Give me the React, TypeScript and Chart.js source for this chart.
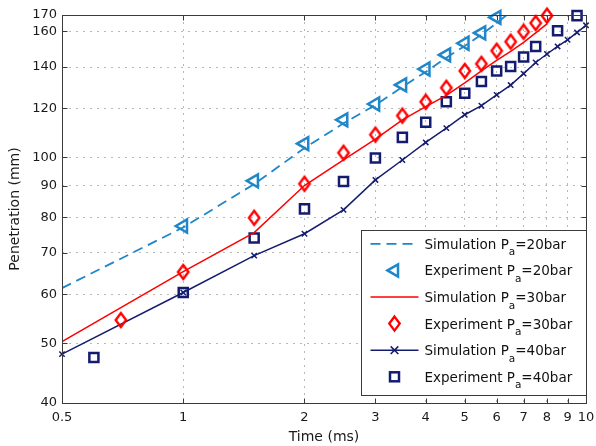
import React, { useEffect, useRef } from "react";
import { Chart, registerables } from "chart.js";

Chart.register(...registerables);

// ---- tick values ----
const xTickValues = [0.5, 1, 2, 3, 4, 5, 6, 7, 8, 9, 10];
const yTickValues = [40, 50, 60, 70, 80, 90, 100, 120, 140, 160, 170];

// ---- Simulation Pa=20bar ----
const simTime20 = [0.5, 1, 1.5, 2, 2.5, 3, 3.5, 4, 4.5, 5, 5.5, 6, 6.5];
const simPen20 = [61.4, 77.0, 90.5, 103.5, 113.5, 121.5, 130, 137.5, 145, 151.5, 158, 165, 172];

// ---- Experiment Pa=20bar ----
const expTime20 = [1, 1.5, 2, 2.5, 3, 3.5, 4, 4.5, 5, 5.5, 6];
const expPen20 = [77.4, 91.6, 105.2, 115, 122, 131, 139, 146.5, 153, 159, 168.5];

// ---- Simulation Pa=30bar ----
const simTime30 = [0.5, 1, 1.5, 2, 2.5, 3, 3.5, 4, 4.5, 5, 5.5, 6, 6.5, 7, 7.5, 8];
const simPen30 = [50.3, 65.3, 75.5, 90, 99, 107, 115, 120.8, 126, 132, 138, 143.5, 148.5, 153.5, 159, 164.5];

// ---- Experiment Pa=30bar ----
const expTime30 = [0.7, 1, 1.5, 2, 2.5, 3, 3.5, 4, 4.5, 5, 5.5, 6, 6.5, 7, 7.5, 8];
const expPen30 = [54.5, 65.2, 79.8, 90.6, 101.7, 108.8, 116.8, 123, 129.6, 138, 141.7, 148.8, 153.9, 159.7, 165, 169.6];

// ---- Simulation Pa=40bar ----
const simTime40 = [0.5, 1, 1.5, 2, 2.5, 3, 3.5, 4, 4.5, 5, 5.5, 6, 6.5, 7, 7.5, 8, 8.5, 9, 9.5, 10];
const simPen40 = [48.0, 60.4, 69.3, 75.2, 82.2, 91.9, 99.0, 105.7, 111.5, 117.2, 121.2, 126.2, 130.9, 136.6, 142.4, 147, 151.2, 155.0, 159.3, 163.6];

// ---- Experiment Pa=40bar ----
const expTime40 = [0.6, 1, 1.5, 2, 2.5, 3, 3.5, 4, 4.5, 5, 5.5, 6, 6.5, 7, 7.5, 8.5, 9.5];
const expPen40 = [47.4, 60.4, 74, 82.5, 91.4, 99.7, 107.7, 114, 123, 127, 132.7, 138, 140.3, 145.4, 151.2, 160.3, 169.6];

// ---- legend text ----
const legendPrefix = ["Simulation P", "Experiment P", "Simulation P", "Experiment P", "Simulation P", "Experiment P"];
const legendSub = ["a", "a", "a", "a", "a", "a"];
const legendSuffix = ["=20bar", "=20bar", "=30bar", "=30bar", "=40bar", "=40bar"];

const xTitle = "Time (ms)";
const yTitle = "Penetration (mm)";

const BLUE = "rgb(31,134,201)";
const RED = "rgb(255,0,0)";
const NAVY = "rgb(20,28,112)";
const FONT = '"DejaVu Sans", sans-serif';

const pts = (xs: number[], ys: number[]) => xs.map((x, i) => ({ x, y: ys[i] }));

function diamondPath(ctx: CanvasRenderingContext2D, cx: number, cy: number, hw: number, hh: number) {
  ctx.beginPath();
  ctx.moveTo(cx, cy - hh);
  ctx.lineTo(cx + hw, cy);
  ctx.lineTo(cx, cy + hh);
  ctx.lineTo(cx - hw, cy);
  ctx.closePath();
}

function makeDiamond(): HTMLCanvasElement {
  const c = document.createElement("canvas");
  c.width = 18;
  c.height = 22;
  const g = c.getContext("2d")!;
  g.strokeStyle = RED;
  g.lineWidth = 2.4;
  g.lineJoin = "miter";
  diamondPath(g, 9, 11, 5.2, 7);
  g.stroke();
  return c;
}

const framePlugin = {
  id: "matlabFrame",
  afterDraw(chart: any) {
    const { ctx, chartArea: a, scales } = chart;
    const xs = scales.x;
    const ys = scales.y;
    ctx.save();
    const L = Math.round(a.left) + 0.5;
    const R = Math.round(a.right) + 0.5;
    const T = Math.round(a.top) + 0.5;
    const B = Math.round(a.bottom) + 0.5;
    ctx.strokeStyle = "#3a3a3a";
    ctx.lineWidth = 1;
    ctx.setLineDash([]);
    ctx.beginPath();
    for (const v of xTickValues) {
      const px = Math.round(xs.getPixelForValue(v)) + 0.5;
      ctx.moveTo(px, B);
      ctx.lineTo(px, B - 5);
      ctx.moveTo(px, T);
      ctx.lineTo(px, T + 5);
    }
    for (const v of yTickValues) {
      const py = Math.round(ys.getPixelForValue(v)) + 0.5;
      ctx.moveTo(L, py);
      ctx.lineTo(L + 5, py);
      ctx.moveTo(R, py);
      ctx.lineTo(R - 5, py);
    }
    ctx.stroke();
    ctx.strokeRect(L, T, R - L, B - T);

    // ---- legend ----
    const boxR = R;
    const boxL = boxR - 225;
    const boxB = B - 8;
    const boxT = boxB - 165;
    ctx.fillStyle = "#ffffff";
    ctx.fillRect(boxL, boxT, boxR - boxL, boxB - boxT);
    ctx.strokeStyle = "#3a3a3a";
    ctx.lineWidth = 1;
    ctx.strokeRect(boxL, boxT, boxR - boxL, boxB - boxT);

    const sx0 = boxL + 9;
    const sx1 = boxL + 57;
    const mx = (sx0 + sx1) / 2;
    const tx = boxL + 63;
    for (let i = 0; i < 6; i++) {
      const base = boxT + 18.3 + i * 26.6;
      const cy = base - 5;
      ctx.lineWidth = 1.8;
      ctx.setLineDash([]);
      if (i === 0) {
        ctx.strokeStyle = BLUE;
        ctx.setLineDash([10, 6]);
        ctx.beginPath();
        ctx.moveTo(sx0, cy);
        ctx.lineTo(sx1, cy);
        ctx.stroke();
        ctx.setLineDash([]);
      } else if (i === 1) {
        ctx.strokeStyle = BLUE;
        ctx.lineWidth = 2.5;
        const r = 7;
        ctx.beginPath();
        ctx.moveTo(mx - r, cy);
        ctx.lineTo(mx + r / 2, cy - r * 0.866);
        ctx.lineTo(mx + r / 2, cy + r * 0.866);
        ctx.closePath();
        ctx.stroke();
      } else if (i === 2) {
        ctx.strokeStyle = RED;
        ctx.lineWidth = 1.5;
        ctx.beginPath();
        ctx.moveTo(sx0, cy);
        ctx.lineTo(sx1, cy);
        ctx.stroke();
      } else if (i === 3) {
        ctx.strokeStyle = RED;
        ctx.lineWidth = 2.4;
        diamondPath(ctx, mx, cy, 5.2, 7);
        ctx.stroke();
      } else if (i === 4) {
        ctx.strokeStyle = NAVY;
        ctx.lineWidth = 1.5;
        ctx.beginPath();
        ctx.moveTo(sx0, cy);
        ctx.lineTo(sx1, cy);
        const r = 3.8;
        ctx.moveTo(mx - r, cy - r);
        ctx.lineTo(mx + r, cy + r);
        ctx.moveTo(mx - r, cy + r);
        ctx.lineTo(mx + r, cy - r);
        ctx.stroke();
      } else {
        ctx.strokeStyle = NAVY;
        ctx.lineWidth = 2.5;
        const h = 4.5;
        ctx.strokeRect(mx - h, cy - h, 2 * h, 2 * h);
      }
      ctx.fillStyle = "#111111";
      ctx.textBaseline = "alphabetic";
      ctx.textAlign = "left";
      ctx.font = "13.5px " + FONT;
      ctx.fillText(legendPrefix[i], tx, base);
      let w = ctx.measureText(legendPrefix[i]).width;
      ctx.font = "10.5px " + FONT;
      ctx.fillText(legendSub[i], tx + w, base + 6.5);
      w += ctx.measureText(legendSub[i]).width;
      ctx.font = "13.5px " + FONT;
      ctx.fillText(legendSuffix[i], tx + w, base);
    }
    ctx.restore();
  },
};

export default function App() {
  const ref = useRef<HTMLCanvasElement>(null);
  useEffect(() => {
    const canvas = ref.current;
    if (!canvas) return;
    Chart.defaults.font.family = FONT;
    Chart.defaults.font.size = 13;
    Chart.defaults.color = "#1a1a1a";
    const diamond = makeDiamond();
    const gridCommon = {
      color: "#b8b8b8",
      lineWidth: 1,
      drawTicks: false,
    };
    const chart = new Chart(canvas, {
      type: "line",
      data: {
        datasets: [
          {
            label: "Simulation 20",
            data: pts(simTime20, simPen20),
            borderColor: BLUE,
            borderWidth: 1.8,
            borderDash: [10, 6],
            pointRadius: 0,
            fill: false,
          },
          {
            label: "Experiment 20",
            data: pts(expTime20, expPen20),
            showLine: false,
            borderColor: BLUE,
            pointStyle: "triangle",
            pointRotation: -90,
            pointRadius: 7.5,
            pointBorderWidth: 2.5,
            pointBackgroundColor: "rgba(0,0,0,0)",
            pointBorderColor: BLUE,
            clip: false,
          },
          {
            label: "Simulation 30",
            data: pts(simTime30, simPen30),
            borderColor: RED,
            borderWidth: 1.5,
            pointRadius: 0,
            fill: false,
          },
          {
            label: "Experiment 30",
            data: pts(expTime30, expPen30),
            showLine: false,
            borderColor: RED,
            pointStyle: diamond,
            pointRadius: 7,
            clip: false,
          },
          {
            label: "Simulation 40",
            data: pts(simTime40, simPen40),
            borderColor: NAVY,
            borderWidth: 1.5,
            pointStyle: "crossRot",
            pointRadius: 3.8,
            pointBorderWidth: 1.5,
            pointBorderColor: NAVY,
            fill: false,
            clip: false,
          },
          {
            label: "Experiment 40",
            data: pts(expTime40, expPen40),
            showLine: false,
            borderColor: NAVY,
            pointStyle: "rect",
            pointRadius: 6.4,
            pointBorderWidth: 2.5,
            pointBackgroundColor: "rgba(0,0,0,0)",
            pointBorderColor: NAVY,
            clip: false,
          },
        ],
      },
      options: {
        animation: false,
        responsive: false,
        maintainAspectRatio: false,
        devicePixelRatio: 1,
        layout: { padding: { left: 0, right: 10, top: 15, bottom: 0 } },
        plugins: {
          legend: { display: false },
          tooltip: { enabled: false },
        },
        elements: { line: { tension: 0 } },
        scales: {
          x: {
            type: "logarithmic",
            min: 0.5,
            max: 10,
            afterBuildTicks: (scale: any) => {
              scale.ticks = xTickValues.map((v) => ({ value: v }));
            },
            afterFit: (scale: any) => {
              scale.height = 43;
              scale.paddingLeft = 0;
              scale.paddingRight = 0;
            },
            ticks: {
              autoSkip: false,
              maxRotation: 0,
              minRotation: 0,
              padding: 7,
              font: { size: 13 },
              callback: (v: any) => String(v),
            },
            grid: gridCommon,
            border: { display: false, dash: [2, 5] },
            title: {
              display: true,
              text: xTitle,
              font: { size: 14 },
              padding: { top: 0, bottom: 0 },
            },
          },
          y: {
            type: "logarithmic",
            min: 40,
            max: 170,
            afterBuildTicks: (scale: any) => {
              scale.ticks = yTickValues.map((v) => ({ value: v }));
            },
            afterFit: (scale: any) => {
              scale.width = 62;
              scale.paddingTop = 0;
              scale.paddingBottom = 0;
            },
            ticks: {
              autoSkip: false,
              padding: 5,
              font: { size: 13 },
              callback: (v: any) => String(v),
            },
            grid: gridCommon,
            border: { display: false, dash: [2, 5] },
            title: {
              display: true,
              text: yTitle,
              font: { size: 14 },
              padding: { top: 7, bottom: 0 },
            },
          },
        },
      },
      plugins: [framePlugin],
    } as any);
    return () => chart.destroy();
  }, []);
  return (
    <div style={{ position: "fixed", left: 0, top: 0, width: 596, height: 446, background: "#fff" }}>
      <canvas ref={ref} width={596} height={446} style={{ display: "block", width: 596, height: 446 }} />
    </div>
  );
}
